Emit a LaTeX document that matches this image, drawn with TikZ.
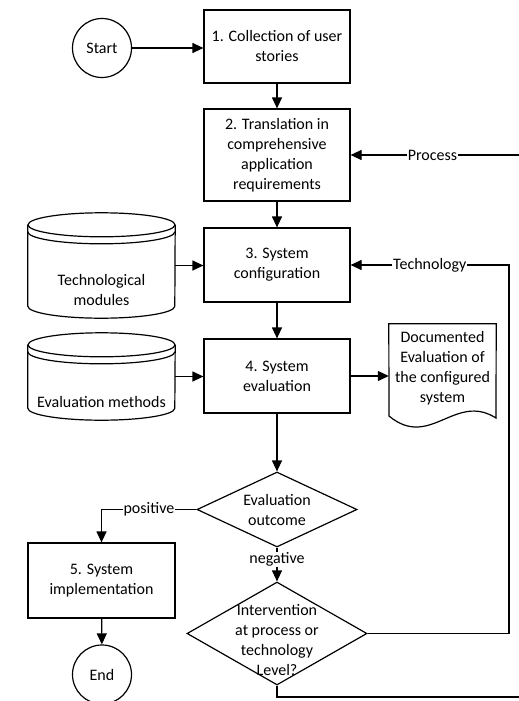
\documentclass[tikz,border=0pt]{standalone}
\usepackage{fontspec}
\setmainfont{Carlito}
\usetikzlibrary{arrows.meta,shapes.geometric}
\begin{document}
\begin{tikzpicture}[x=1pt,y=-1pt,
  every node/.style={font=\fontsize{16}{20}\selectfont, align=center},
  line/.style={line width=1.2pt, draw=black},
  arr/.style={line, -{Triangle[length=11pt,width=10pt]}},
  box/.style={draw, line width=1.2pt, minimum width=146pt, minimum height=#1, inner sep=0pt},
  term/.style={draw, circle, line width=1.2pt, minimum size=59pt, inner sep=0pt},
  dec/.style={draw, diamond, line width=1.2pt, inner sep=0pt},
  area/.style={inner sep=0pt, minimum width=#1},
  lbl/.style={fill=white, inner sep=1pt}
]
\useasboundingbox (0,0) rectangle (519,701);
\fill[white] (0,0) rectangle (519,701);
\clip (0,0) rectangle (519,701);

% process nodes
\node[term] (start) at (102,48) {Start};
\node[box=73pt] (b1) at (277,46.5) {1. Collection of user\\stories};
\node[box=92pt] (b2) at (277,155) {2. Translation in\\comprehensive\\application\\requirements};
\node[box=74pt] (b3) at (277,265) {3. System\\configuration};
\node[box=74pt] (b4) at (277,376) {4. System\\evaluation};
\node[box=75pt, minimum width=147pt] (b5) at (101.5,580.5) {5. System\\implementation};
\node[term] (end) at (102,674.5) {End};

% decisions
\node[dec, minimum width=160pt, minimum height=75pt] (d1) at (277,509.5) {};
\node (d1t) at (277,510) {Evaluation\\outcome};
\node[dec, minimum width=180pt, minimum height=103pt] (d2) at (277,633.5) {};
\node (d2t) at (277,640) {Intervention\\at process or\\technology\\Level?};

% databases
\node[area=147pt, minimum height=81pt] (tm) at (101.5,265.5) {};
\draw[line] (tm.north west) -- (tm.south west)
  arc[start angle=180, end angle=360, x radius=73.5pt, y radius=12pt] -- (tm.north east);
\draw[line] (tm.north) ellipse[x radius=73.5pt, y radius=12pt];
\draw[line] ([yshift=-7pt]tm.north west) arc[start angle=180, end angle=360, x radius=73.5pt, y radius=12pt];
\node (tmt) at (101.5,290) {Technological\\modules};

\node[area=147pt, minimum height=63pt] (em) at (101.5,376.5) {};
\draw[line] (em.north west) -- (em.south west)
  arc[start angle=180, end angle=360, x radius=73.5pt, y radius=12pt] -- (em.north east);
\draw[line] (em.north) ellipse[x radius=73.5pt, y radius=12pt];
\draw[line] ([yshift=-7pt]em.north west) arc[start angle=180, end angle=360, x radius=73.5pt, y radius=12pt];
\node (emt) at (101.5,402) {Evaluation methods};

% document
\node[area=107pt, minimum height=104pt] (doc) at (442.5,376) {};
\draw[line] (389,416) -- (doc.north west) -- (doc.north east) -- (496,418)
  .. controls (455,392) and (430,450) .. (389,416) -- cycle;
\node (doct) at (442.5,368) {Documented\\Evaluation of\\the configured\\system};

% connectors
\coordinate (tr) at (509,265);
\coordinate (br) at (530,697);
\coordinate (pr) at (530,155);
\draw[arr] (start.east) -- (start.east -| b1.west);
\draw[arr] (b1) -- (b2);
\draw[arr] (b2) -- (b3);
\draw[arr] (b3) -- (b4);
\draw[arr] (tm.east) -- (tm.east -| b3.west);
\draw[arr] (em.east) -- (em.east -| b4.west);
\draw[arr] (b4.east) -- (b4.east -| doc.west);
\draw[arr] (b4) -- (d1);
\draw[arr] (d1.west) -| node[lbl, pos=0.25] {positive} (b5.north);
\draw[arr] (d1.south) -- node[lbl, pos=0.35] {negative} (d2.north);
\draw[arr] (b5) -- (end);
\draw[arr] (d2.east) -| (tr) -- node[lbl, pos=0.5] {Technology} (b3.east);
\draw[arr] (d2.south) |- (br) -- (pr) -- node[lbl, pos=0.544] {Process} (b2.east);
\end{tikzpicture}
\end{document}
